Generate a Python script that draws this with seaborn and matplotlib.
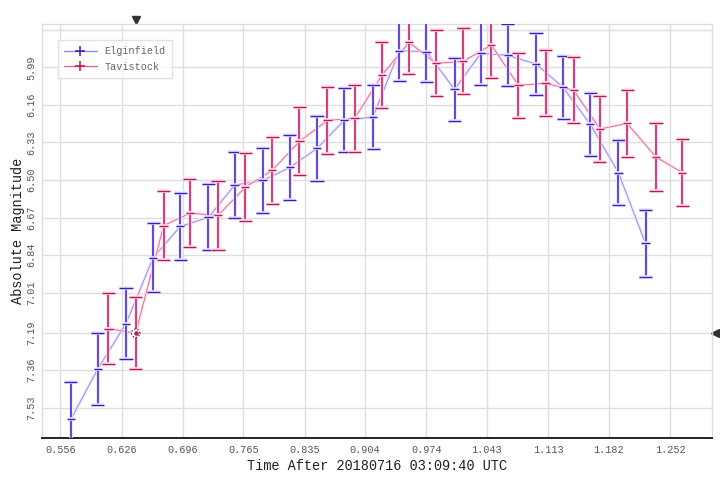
"""Absolute magnitude light curve, two stations, with error bars."""
import matplotlib

matplotlib.use("Agg")
import matplotlib.pyplot as plt
import matplotlib.patheffects as pe
import matplotlib.transforms as mtransforms
from matplotlib.lines import Line2D
import pandas as pd
import seaborn as sns

# --- data ------------------------------------------------------------------
elg_t = [0.568, 0.599, 0.631, 0.662, 0.693, 0.725, 0.755, 0.787, 0.818, 0.849, 0.880,
         0.913, 0.943, 0.974, 1.006, 1.036, 1.067, 1.099, 1.130, 1.161, 1.193, 1.224]
elg_mag = [7.583, 7.353, 7.149, 6.851, 6.710, 6.669, 6.523, 6.502, 6.443, 6.357, 6.230,
           6.215, 5.915, 5.919, 6.090, 5.927, 5.936, 5.975, 6.081, 6.248, 6.466, 6.787]
elg_err = [0.168, 0.163, 0.161, 0.157, 0.151, 0.149, 0.150, 0.149, 0.147, 0.147, 0.145,
           0.144, 0.137, 0.137, 0.142, 0.144, 0.140, 0.140, 0.142, 0.144, 0.146, 0.151]

tav_t = [0.611, 0.642, 0.674, 0.704, 0.736, 0.767, 0.798, 0.829, 0.861, 0.892, 0.923,
         0.954, 0.985, 1.016, 1.048, 1.079, 1.110, 1.142, 1.172, 1.203, 1.236, 1.266]
tav_mag = [7.172, 7.193, 6.706, 6.650, 6.660, 6.533, 6.456, 6.325, 6.230, 6.221, 6.026,
           5.877, 5.972, 5.963, 5.889, 6.072, 6.062, 6.094, 6.269, 6.244, 6.396, 6.466]
tav_err = [0.160, 0.164, 0.156, 0.154, 0.155, 0.154, 0.151, 0.154, 0.150, 0.152, 0.149,
           0.145, 0.149, 0.149, 0.151, 0.149, 0.149, 0.149, 0.150, 0.151, 0.154, 0.152]

x_ticks = [0.556, 0.626, 0.696, 0.765, 0.835, 0.904, 0.974, 1.043, 1.113, 1.182, 1.252]
y_ticks = [5.82, 5.99, 6.16, 6.33, 6.50, 6.67, 6.84, 7.01, 7.19, 7.36, 7.53]
y_labels = ["", "5.99", "6.16", "6.33", "6.50", "6.67", "6.84", "7.01", "7.19", "7.36", "7.53"]
hover_idx = 1  # highlighted Tavistock point

# --- styling ---------------------------------------------------------------
STYLE = {
    "Elginfield": dict(bar="#3a1cc8", line="#8e80ff", halo="#ece6ff"),
    "Tavistock": dict(bar="#c4145a", line="#ee5a8e", halo="#ffe0ec"),
}

sns.set_theme(style="whitegrid")
plt.rcParams["font.family"] = ["Liberation Mono", "DejaVu Sans Mono"]

df = pd.concat([
    pd.DataFrame({"t": elg_t, "mag": elg_mag, "err": elg_err, "station": "Elginfield"}),
    pd.DataFrame({"t": tav_t, "mag": tav_mag, "err": tav_err, "station": "Tavistock"}),
], ignore_index=True)

fig = plt.figure(figsize=(7.2, 4.8), dpi=100)
ax = fig.add_axes([0.0583, 0.0875, 0.9306, 0.8625])

sns.lineplot(
    data=df, x="t", y="mag", hue="station",
    palette={k: v["line"] for k, v in STYLE.items()},
    sort=False, linewidth=0.6, legend=False, ax=ax, zorder=3,
)
for ln, name in zip(ax.get_lines(), STYLE):
    ln.set_path_effects([pe.Stroke(linewidth=2.0, foreground=STYLE[name]["halo"]), pe.Normal()])

for name, grp in df.groupby("station"):
    st = STYLE[name]
    eb = ax.errorbar(
        grp["t"], grp["mag"], yerr=grp["err"], fmt="_", markersize=6,
        color=st["bar"], ecolor=st["bar"], elinewidth=1.1, capsize=4.7,
        capthick=1.1, markeredgewidth=1.0, zorder=4,
    )
    halo = [pe.Stroke(linewidth=2.6, foreground=st["halo"]), pe.Normal()]
    eb[0].set_path_effects(halo)
    for art in list(eb[1]) + list(eb[2]):
        art.set_path_effects(halo)

# hovered point marker and crosshair pointers
hx, hy = tav_t[hover_idx], tav_mag[hover_idx]
ax.scatter([hx], [hy], s=36, facecolors="white", edgecolors="#222222",
           linewidths=0.9, linestyles=":", zorder=6)
ax.scatter([hx], [hy], s=5, color=STYLE["Tavistock"]["bar"], zorder=7)
ax.plot([hx], [1.01], marker="v", markersize=5.5, color="#333333",
        transform=mtransforms.blended_transform_factory(ax.transData, ax.transAxes),
        clip_on=False)
ax.plot([1.005], [hy], marker="<", markersize=5.5, color="#333333",
        transform=mtransforms.blended_transform_factory(ax.transAxes, ax.transData),
        clip_on=False)

# axes
ax.set_xlim(0.5351, 1.2999)
ax.set_ylim(7.667, 5.794)
ax.set_xticks(x_ticks)
ax.set_xticklabels([f"{v:.3f}" for v in x_ticks])
ax.set_yticks(y_ticks)
ax.set_yticklabels(y_labels, rotation=90, va="center")
ax.tick_params(axis="both", labelsize=7.3, labelcolor="#555555", length=3,
               color="#dddddd", pad=2)
ax.tick_params(axis="y", pad=1)
ax.grid(True, color="#dedede", linewidth=1.0)
for side in ("top", "left", "right"):
    ax.spines[side].set_color("#dddddd")
    ax.spines[side].set_linewidth(1.0)
ax.spines["bottom"].set_color("#222222")
ax.spines["bottom"].set_linewidth(1.4)

ax.set_xlabel("Time After 20180716 03:09:40 UTC", fontsize=9.8, color="#222222", labelpad=3)
ax.set_ylabel("Absolute Magnitude", fontsize=9.8, color="#222222", labelpad=1)

handles = [
    Line2D([], [], color=STYLE[n]["line"], marker="+", markersize=7,
           markeredgecolor=STYLE[n]["bar"], markeredgewidth=1.1, linewidth=0.9)
    for n in STYLE
]
leg = ax.legend(handles, list(STYLE), loc="upper left", bbox_to_anchor=(0.024, 0.961),
                borderaxespad=0, frameon=True, fancybox=False, fontsize=7.3,
                handlelength=3.2, labelcolor="#666666", borderpad=0.6, labelspacing=0.55)
leg.get_frame().set_edgecolor("#dddddd")
leg.get_frame().set_linewidth(1.0)

fig.savefig("out.png", dpi=100)
